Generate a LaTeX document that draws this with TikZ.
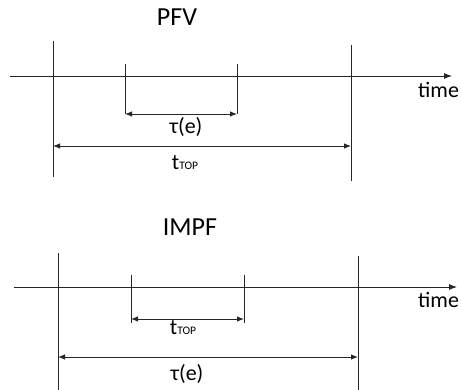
\documentclass[tikz,border=0pt]{standalone}
\usepackage{fontspec}
\setmainfont{Carlito}
\usetikzlibrary{arrows.meta}
\begin{document}
\begin{tikzpicture}[x=1pt,y=-1pt,
  ln/.style={line width=0.9pt,draw=black!85},
  dim/.style={ln,{Latex[length=7pt,width=5.5pt]}-{Latex[length=7pt,width=5.5pt]}},
  axis/.style={ln,-{Latex[length=8pt,width=6pt]}},
  title/.style={font=\fontsize{26}{30}\selectfont,text=black,inner sep=0pt},
  lbl/.style={font=\fontsize{22}{26}\selectfont,text=black,inner sep=0pt}]
\useasboundingbox (0,0) rectangle (461,390);
\newcommand{\ttop}{t{\fontsize{11.5}{14}\selectfont TOP}}
% ---------- PFV ----------
\node[title,anchor=base] (t1) at (177,26) {PFV};
\coordinate (a1s) at (10,76);
\coordinate (a1e) at (452,76);
\draw[axis] (a1s) -- (a1e);
\node[lbl,anchor=base west] (time1) at (418,98) {time};
\coordinate (l1t) at (53,41);  \coordinate (l1b) at (53,177);
\coordinate (r1t) at (351,45); \coordinate (r1b) at (351,181);
\draw[ln] (l1t) -- (l1b);
\draw[ln] (r1t) -- (r1b);
\coordinate (il1t) at (125,64); \coordinate (il1b) at (125,114);
\coordinate (ir1t) at (237,64); \coordinate (ir1b) at (237,114);
\draw[ln] (il1t) -- (il1b);
\draw[ln] (ir1t) -- (ir1b);
\draw[dim] (il1b) -- (ir1b);
\node[lbl,anchor=base] (tau1) at (186,134) {τ(e)};
\coordinate (o1l) at (53,146); \coordinate (o1r) at (351,146);
\draw[dim] (o1l) -- (o1r);
\node[lbl,anchor=base] (top1) at (185,170) {\ttop};
% ---------- IMPF ----------
\node[title,anchor=base] (t2) at (190,236) {IMPF};
\coordinate (a2s) at (14,287);
\coordinate (a2e) at (457,287);
\draw[axis] (a2s) -- (a2e);
\node[lbl,anchor=base west] (time2) at (418,308) {time};
\coordinate (l2t) at (58,253);  \coordinate (l2b) at (58,392);
\coordinate (r2t) at (358,256); \coordinate (r2b) at (358,392);
\draw[ln] (l2t) -- (l2b);
\draw[ln] (r2t) -- (r2b);
\coordinate (il2t) at (131,275); \coordinate (il2b) at (131,323);
\coordinate (ir2t) at (244,275); \coordinate (ir2b) at (244,323);
\draw[ln] (il2t) -- (il2b);
\draw[ln] (ir2t) -- (ir2b);
\coordinate (d2l) at (131,319); \coordinate (d2r) at (244,319);
\draw[dim] (d2l) -- (d2r);
\node[lbl,anchor=base] (top2) at (183,335) {\ttop};
\coordinate (o2l) at (58,357); \coordinate (o2r) at (358,357);
\draw[dim] (o2l) -- (o2r);
\node[lbl,anchor=base] (tau2) at (187,381) {τ(e)};
\end{tikzpicture}
\end{document}
